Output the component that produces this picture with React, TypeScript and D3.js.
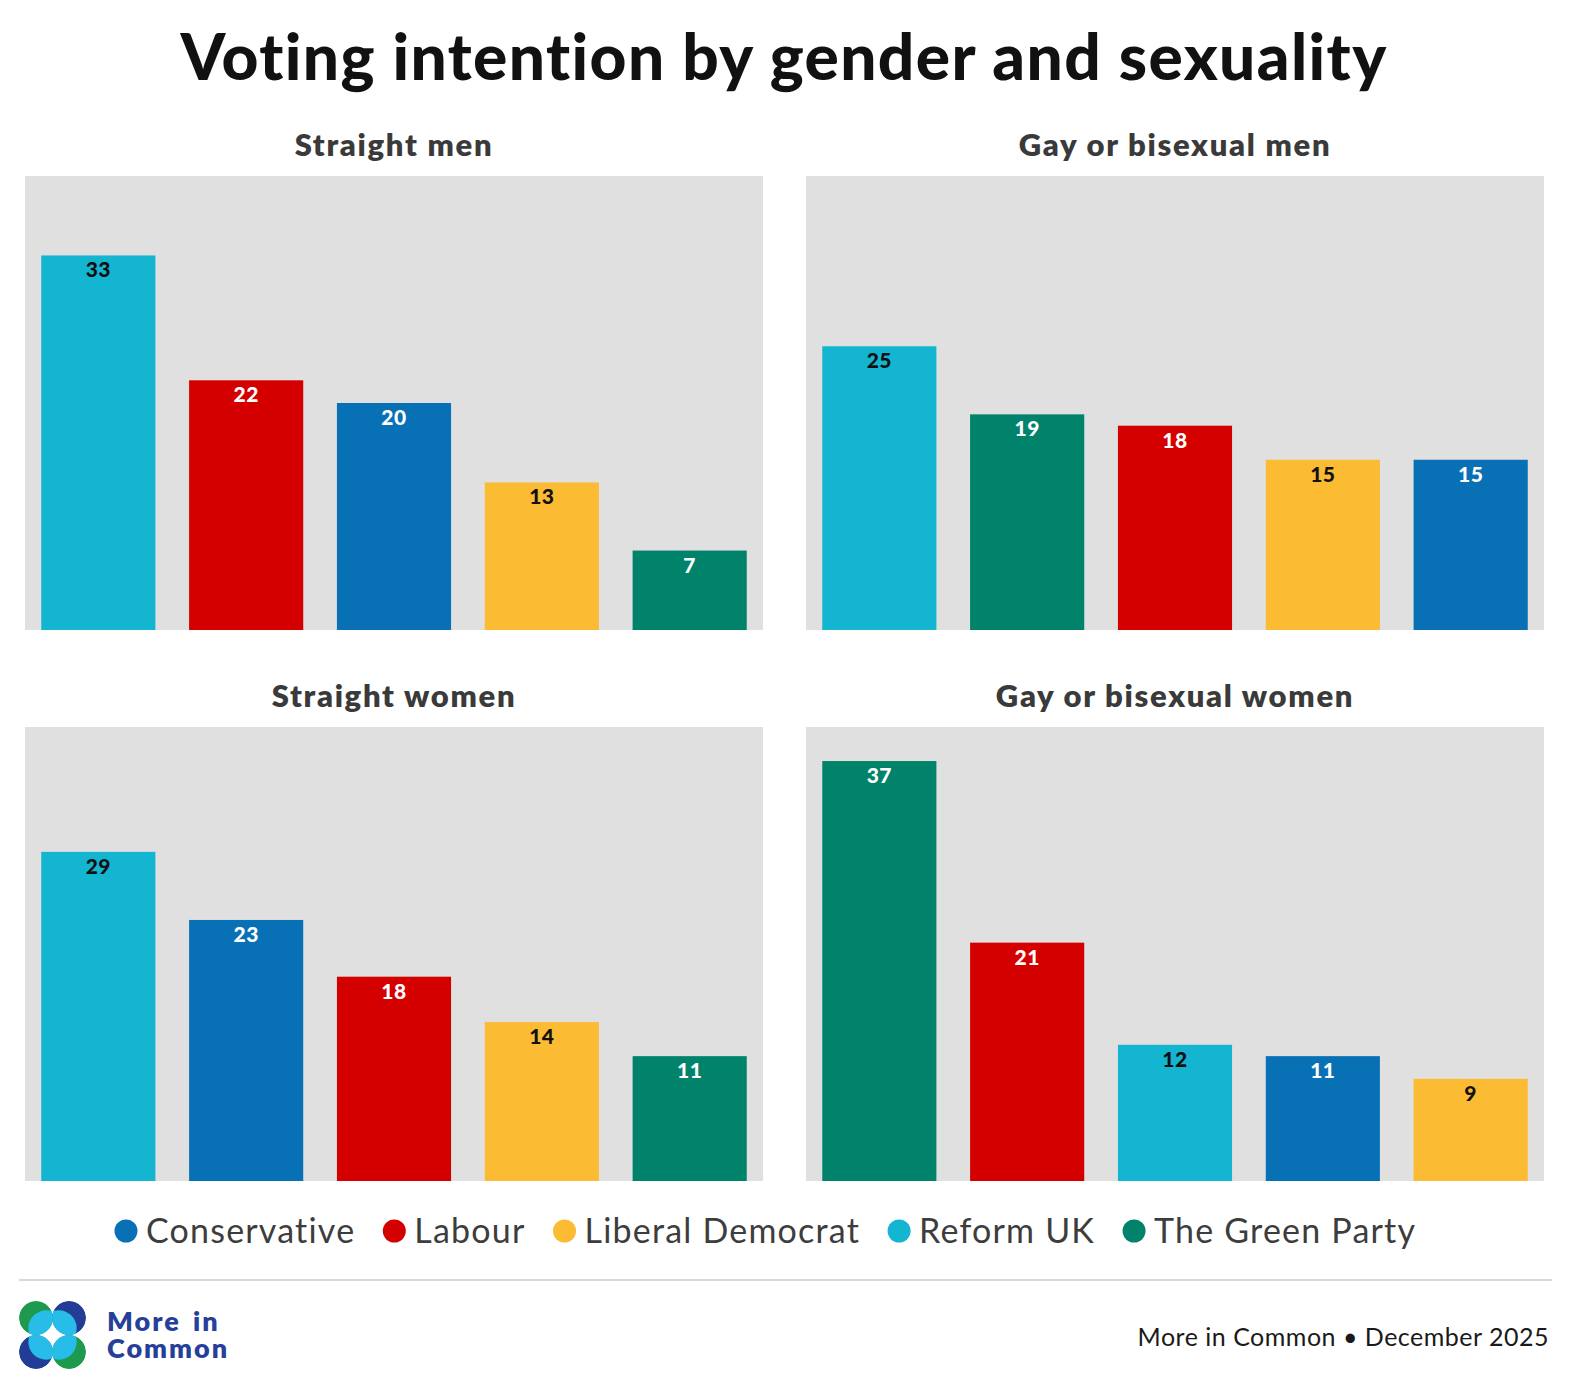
import { useEffect, useRef } from 'react';
import * as d3 from 'd3';

type Panel = {
  title: string;
  parties: string[];
  values: number[];
};

const parties = ['Conservative', 'Labour', 'Liberal Democrat', 'Reform UK', 'The Green Party'];
const partyColors = ['#0870b5', '#d40000', '#fbbb33', '#14b5d0', '#00836a'];
const labelColors = ['#ffffff', '#ffffff', '#111111', '#111111', '#ffffff'];

const straightMenParties = ['Reform UK', 'Labour', 'Conservative', 'Liberal Democrat', 'The Green Party'];
const straightMenValues = [33, 22, 20, 13, 7];

const gayMenParties = ['Reform UK', 'The Green Party', 'Labour', 'Liberal Democrat', 'Conservative'];
const gayMenValues = [25, 19, 18, 15, 15];

const straightWomenParties = ['Reform UK', 'Conservative', 'Labour', 'Liberal Democrat', 'The Green Party'];
const straightWomenValues = [29, 23, 18, 14, 11];

const gayWomenParties = ['The Green Party', 'Labour', 'Reform UK', 'Conservative', 'Liberal Democrat'];
const gayWomenValues = [37, 21, 12, 11, 9];

const panelTitles = ['Straight men', 'Gay or bisexual men', 'Straight women', 'Gay or bisexual women'];

const panels: Panel[] = [
  { title: panelTitles[0], parties: straightMenParties, values: straightMenValues },
  { title: panelTitles[1], parties: gayMenParties, values: gayMenValues },
  { title: panelTitles[2], parties: straightWomenParties, values: straightWomenValues },
  { title: panelTitles[3], parties: gayWomenParties, values: gayWomenValues },
];

const FONT = 'Lato, "Noto Sans", sans-serif';
const WIDTH = 1571;
const HEIGHT = 1396;

function drawChart(svgElement: SVGSVGElement) {
  const svg = d3.select(svgElement);
  svg.selectAll('*').remove();
  svg.attr('viewBox', `0 0 ${WIDTH} ${HEIGHT}`).attr('width', WIDTH).attr('height', HEIGHT);

  svg.append('rect').attr('width', WIDTH).attr('height', HEIGHT).attr('fill', '#ffffff');

  const color = d3.scaleOrdinal<string, string>().domain(parties).range(partyColors);
  const labelColor = d3.scaleOrdinal<string, string>().domain(parties).range(labelColors);

  svg
    .append('text')
    .attr('x', 784)
    .attr('y', 80)
    .attr('text-anchor', 'middle')
    .attr('font-family', FONT)
    .attr('font-weight', 900)
    .attr('font-size', 64)
    .attr('letter-spacing', 1.4)
    .attr('fill', '#111111')
    .text('Voting intention by gender and sexuality');

  const cols = [25, 806];
  const rows = [176, 727];
  const panelWidth = 738;
  const panelHeight = 454;

  const y = d3.scaleLinear().domain([0, 40]).range([panelHeight, 0]);

  panels.forEach((panel, i) => {
    const px = cols[i % 2];
    const py = rows[Math.floor(i / 2)];

    svg
      .append('text')
      .attr('x', px + panelWidth / 2)
      .attr('y', py - 20)
      .attr('text-anchor', 'middle')
      .attr('font-family', FONT)
      .attr('font-weight', 800)
      .attr('font-size', 31)
      .attr('letter-spacing', 1.7)
      .attr('fill', '#3a3a3a')
      .text(panel.title);

    const g = svg.append('g').attr('transform', `translate(${px},${py})`);
    g.append('rect').attr('width', panelWidth).attr('height', panelHeight).attr('fill', '#e0e0e0');

    const x = d3
      .scaleBand<string>()
      .domain(panel.parties)
      .range([0, panelWidth])
      .paddingInner(0.228)
      .paddingOuter(0.11);

    const data = panel.parties.map((party, j) => ({ party, value: panel.values[j] }));

    g.selectAll('rect.bar')
      .data(data)
      .join('rect')
      .attr('class', 'bar')
      .attr('x', (d) => x(d.party) ?? 0)
      .attr('y', (d) => y(d.value))
      .attr('width', x.bandwidth())
      .attr('height', (d) => y(0) - y(d.value))
      .attr('fill', (d) => color(d.party));

    g.selectAll('text.value')
      .data(data)
      .join('text')
      .attr('class', 'value')
      .attr('x', (d) => (x(d.party) ?? 0) + x.bandwidth() / 2)
      .attr('y', (d) => y(d.value) + 22)
      .attr('text-anchor', 'middle')
      .attr('font-family', FONT)
      .attr('font-weight', 900)
      .attr('font-size', 21)
      .attr('letter-spacing', 0.5)
      .attr('fill', (d) => labelColor(d.party))
      .text((d) => d.value);
  });

  // legend
  const legend = svg.append('g').attr('transform', 'translate(114,1231)');
  let cursor = 0;
  parties.forEach((party) => {
    const item = legend.append('g').attr('transform', `translate(${cursor},0)`);
    item.append('circle').attr('cx', 12).attr('cy', 0).attr('r', 11.5).attr('fill', color(party));
    const t = item
      .append('text')
      .attr('x', 32)
      .attr('y', 12)
      .attr('font-family', FONT)
      .attr('font-weight', 400)
      .attr('font-size', 34)
      .attr('letter-spacing', 1.2)
      .attr('fill', '#3d3d3d')
      .text(party);
    const w = (t.node() as SVGTextElement).getComputedTextLength();
    cursor += 32 + w + 27;
  });

  svg
    .append('line')
    .attr('x1', 19)
    .attr('x2', 1552)
    .attr('y1', 1280)
    .attr('y2', 1280)
    .attr('stroke', '#d9d9d9')
    .attr('stroke-width', 2);

  svg
    .append('text')
    .attr('x', 1549)
    .attr('y', 1346)
    .attr('text-anchor', 'end')
    .attr('font-family', FONT)
    .attr('font-weight', 400)
    .attr('font-size', 25)
    .attr('letter-spacing', 0.5)
    .attr('fill', '#1a1a1a')
    .text('More in Common \u2022 December 2025');

  // logo
  const logo = svg.append('g');
  const defs = svg.append('defs');
  const r = 17;
  const off = 0.6 * r;
  const logoCircles = [
    { cx: 36, cy: 1318, base: '#1e9a4f', dx: 1, dy: 1 },
    { cx: 69, cy: 1318, base: '#233d96', dx: -1, dy: 1 },
    { cx: 36, cy: 1352, base: '#233d96', dx: 1, dy: -1 },
    { cx: 69, cy: 1352, base: '#1e9a4f', dx: -1, dy: -1 },
  ];
  logoCircles.forEach((c, k) => {
    const id = `logo-clip-${k}`;
    defs.append('clipPath').attr('id', id).append('circle').attr('cx', c.cx).attr('cy', c.cy).attr('r', r);
    const cg = logo.append('g').attr('clip-path', `url(#${id})`);
    cg.append('circle').attr('cx', c.cx).attr('cy', c.cy).attr('r', r).attr('fill', c.base);
    cg.append('circle')
      .attr('cx', c.cx + c.dx * off)
      .attr('cy', c.cy + c.dy * off)
      .attr('r', r * 1.05)
      .attr('fill', '#27bde8');
  });

  const logoText = logo
    .append('text')
    .attr('font-family', FONT)
    .attr('font-weight', 800)
    .attr('font-size', 27)
    .attr('letter-spacing', 2)
    .attr('fill', '#26409a');
  logoText.append('tspan').attr('x', 107).attr('y', 1331).attr('word-spacing', 4).text('More in');
  logoText.append('tspan').attr('x', 107).attr('y', 1358).text('Common');
}

export default function App() {
  const svgRef = useRef<SVGSVGElement>(null);

  useEffect(() => {
    document.body.style.margin = '0';
    document.body.style.overflow = 'hidden';
    document.documentElement.style.overflow = 'hidden';
    if (svgRef.current) {
      drawChart(svgRef.current);
    }
  }, []);

  return <svg ref={svgRef} style={{ display: 'block' }} />;
}
